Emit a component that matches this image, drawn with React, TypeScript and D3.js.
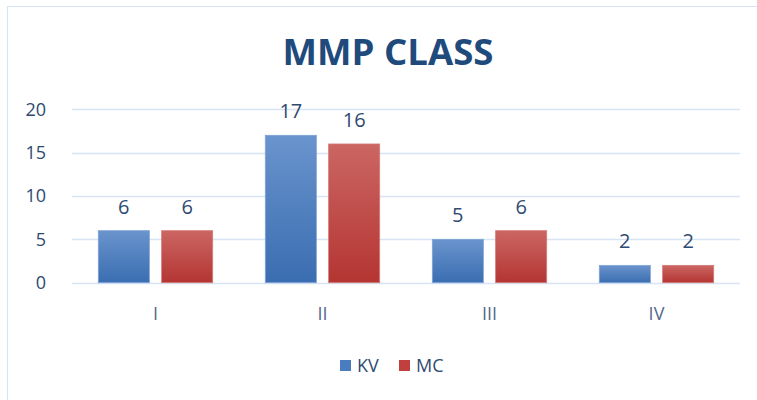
import * as d3 from 'd3';
import React, { useEffect, useRef } from 'react';

const categories = ['I', 'II', 'III', 'IV'];
const seriesNames = ['KV', 'MC'];
const kvValues = [6, 17, 5, 2];
const mcValues = [6, 16, 6, 2];
const yTicks = [0, 5, 10, 15, 20];

const width = 757;
const height = 400;
const font = "'Open Sans', 'Liberation Sans', sans-serif";

export default function App() {
    const ref = useRef<SVGSVGElement>(null);

    useEffect(() => {
        const svg = d3.select(ref.current);
        svg.selectAll('*').remove();

        const defs = svg.append('defs');
        const grads = [
            { id: 'gKV', top: '#6A94CD', bottom: '#3A6DB1' },
            { id: 'gMC', top: '#CB6663', bottom: '#B43532' },
        ];
        grads.forEach((g) => {
            const lg = defs.append('linearGradient').attr('id', g.id).attr('x1', 0).attr('y1', 0).attr('x2', 0).attr('y2', 1);
            lg.append('stop').attr('offset', '0%').attr('stop-color', g.top);
            lg.append('stop').attr('offset', '100%').attr('stop-color', g.bottom);
        });
        const fills: Record<string, string> = { KV: 'url(#gKV)', MC: 'url(#gMC)' };
        const strokes: Record<string, string> = { KV: '#7FA3D4', MC: '#D47A77' };
        const legendFills: Record<string, string> = { KV: '#4A7CC0', MC: '#C0403D' };

        // chart frame
        svg.append('rect')
            .attr('x', 7.5).attr('y', 6.5)
            .attr('width', 800).attr('height', 420)
            .attr('fill', '#fff').attr('stroke', '#D5E3F3');

        // title
        svg.append('text')
            .attr('x', 388).attr('y', 65)
            .attr('text-anchor', 'middle')
            .attr('font-family', font)
            .attr('font-weight', 700)
            .attr('font-size', 35)
            .attr('fill', '#1F4A7C')
            .attr('textLength', 211)
            .attr('lengthAdjust', 'spacingAndGlyphs')
            .text('MMP CLASS');

        const x0 = d3.scaleBand().domain(categories).range([72, 740]).padding(0);
        const x1 = d3.scaleBand().domain(seriesNames)
            .range([26.3, x0.bandwidth() - 26.3]).paddingInner(0.194).paddingOuter(0);
        const y = d3.scaleLinear().domain([0, 20]).range([282.7, 109.3]);

        const g = svg.append('g');

        // gridlines
        g.selectAll('.grid')
            .data(yTicks)
            .join('line')
            .attr('x1', 72).attr('x2', 740)
            .attr('y1', (d) => Math.round(y(d)) + 0.5)
            .attr('y2', (d) => Math.round(y(d)) + 0.5)
            .attr('stroke', '#D6E4F4').attr('stroke-width', 1.3);

        // y tick labels
        g.selectAll('.ytick')
            .data(yTicks)
            .join('text')
            .attr('x', 46)
            .attr('y', (d) => y(d))
            .attr('dy', '0.35em')
            .attr('text-anchor', 'end')
            .attr('font-family', font)
            .attr('font-size', 18)
            .attr('fill', '#2E4A70')
            .text((d) => d);

        const rows = categories.map((c, i) => ({
            cat: c,
            vals: [
                { s: 'KV', v: kvValues[i] },
                { s: 'MC', v: mcValues[i] },
            ],
        }));

        const groups = g.selectAll('.grp')
            .data(rows)
            .join('g')
            .attr('transform', (d) => `translate(${x0(d.cat)},0)`);

        groups.selectAll('rect')
            .data((d) => d.vals)
            .join('rect')
            .attr('x', (d) => x1(d.s)!)
            .attr('width', x1.bandwidth())
            .attr('y', (d) => y(d.v))
            .attr('height', (d) => y(0) - y(d.v))
            .attr('fill', (d) => fills[d.s])
            .attr('stroke', (d) => strokes[d.s])
            .attr('stroke-width', 0.8);

        groups.selectAll('.lbl')
            .data((d) => d.vals)
            .join('text')
            .attr('x', (d) => x1(d.s)! + x1.bandwidth() / 2)
            .attr('y', (d) => y(d.v) - 17)
            .attr('text-anchor', 'middle')
            .attr('font-family', font)
            .attr('font-size', 20)
            .attr('fill', '#2F4B70')
            .text((d) => d.v);

        // category labels
        g.selectAll('.xlab')
            .data(categories)
            .join('text')
            .attr('x', (d) => x0(d)! + x0.bandwidth() / 2)
            .attr('y', 320)
            .attr('text-anchor', 'middle')
            .attr('font-family', font)
            .attr('font-size', 18)
            .attr('fill', '#54698A')
            .text((d) => d);

        // legend
        const legendX = [340, 399];
        const leg = g.selectAll('.leg')
            .data(seriesNames)
            .join('g')
            .attr('transform', (d, i) => `translate(${legendX[i]},360)`);
        leg.append('rect')
            .attr('width', 11).attr('height', 11)
            .attr('fill', (d) => legendFills[d]);
        leg.append('text')
            .attr('x', 17).attr('y', 5.5).attr('dy', '0.35em')
            .attr('font-family', font)
            .attr('font-size', 18)
            .attr('fill', '#2F4B70')
            .text((d) => d);
    }, []);

    return (
        <svg
            ref={ref}
            width={width}
            height={height}
            style={{ position: 'absolute', left: 0, top: 0 }}
        />
    );
}
